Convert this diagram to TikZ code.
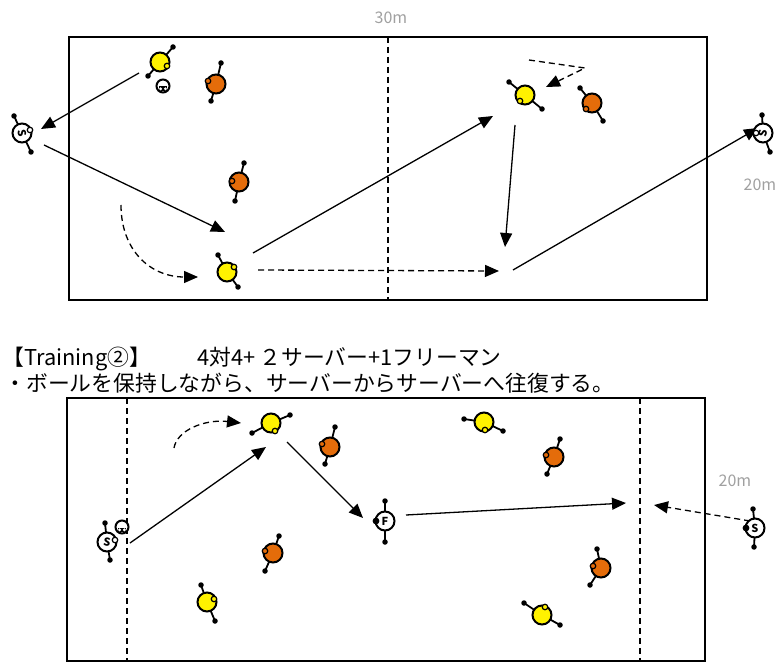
\documentclass[tikz,border=0pt]{standalone}
\usepackage{fontspec}
\setmainfont{Noto Sans CJK JP}
\usetikzlibrary{arrows.meta}
\definecolor{pyellow}{RGB}{255,242,0}
\definecolor{porange}{RGB}{228,108,10}
\definecolor{labelgray}{RGB}{160,160,160}
\tikzset{
  field/.style={draw=black, line width=1.2pt},
  midline/.style={draw=black, line width=1.1pt, dash pattern=on 6pt off 4pt},
  pass/.style={draw=black, line width=1.3pt, -{Triangle[length=14pt,width=12pt]}},
  run/.style={pass, dash pattern=on 6pt off 4pt},
  arm/.style={line width=1.8pt, line cap=round},
  body/.style={circle, draw=black, line width=2pt, minimum size=19pt, inner sep=0pt},
  ear/.style={circle, draw=black, line width=1.2pt, minimum size=5.5pt, inner sep=0pt},
  joint/.style={circle, fill=black, minimum size=5.5pt, inner sep=0pt},
  letter/.style={font=\fontsize{11}{11}\selectfont\bfseries},
  measure/.style={text=labelgray, font=\fontsize{16}{16}\selectfont},
  caption/.style={anchor=base west, font=\fontsize{21.8}{22}\selectfont},
}
% player: name, centre, fill, end 1, end 2, ear
\newcommand\fieldplayer[6]{%
  \begin{scope}[shift={(#2)}]
    \draw[arm] (#4) -- (0,0) -- (#5);
    \node[joint] at (#4) {};
    \node[joint] at (#5) {};
    \node[body, fill=#3] (#1) at (0,0) {};
    \node[ear, fill=#3] at (#6) {};
  \end{scope}}
% server / free player: name, centre, letter, letter angle, end 1, end 2, ear, ear fill
\newcommand\roleplayer[8]{%
  \begin{scope}[shift={(#2)}]
    \draw[arm] (#5) -- (0,0) -- (#6);
    \node[joint] at (#5) {};
    \node[joint] at (#6) {};
    \node[body, fill=white] (#1) at (0,0) {};
    \node[letter, rotate=#4] at (0,0) {#3};
    \node[ear, fill=#8] at (#7) {};
  \end{scope}}
% ball: name, centre
\newcommand\ballicon[2]{%
  \begin{scope}[shift={(#2)}]
    \node[circle, draw=black, fill=white, line width=2pt, minimum size=13pt, inner sep=0pt] (#1) at (0,0) {};
    \fill (-4,0.5) rectangle (4,5);
    \fill[white] (-2.4,2.8) circle (1.6);
    \fill[white] (2.4,2.8) circle (1.6);
  \end{scope}}
\begin{document}
\begin{tikzpicture}[x=1pt, y=-1pt]
\useasboundingbox (0,0) rectangle (779,663);

% ---------- upper pitch ----------
\draw[field] (69,37) rectangle (707,300);
\draw[midline] (388,37) -- (388,300);
\node[measure] (len1) at (391,18) {30m};
\node[measure] (wid1) at (760,185) {20m};

\coordinate (a1s) at (139,73);  \coordinate (a1e) at (41,129);
\coordinate (a2s) at (44,145);  \coordinate (a2e) at (225,232);
\coordinate (a3s) at (121,205); \coordinate (a3e) at (198,277);
\coordinate (a4s) at (253,253); \coordinate (a4e) at (493,116);
\coordinate (a5s) at (258,270); \coordinate (a5e) at (499,271);
\coordinate (a6s) at (515,125); \coordinate (a6e) at (505,247);
\coordinate (a7s) at (513,270); \coordinate (a7e) at (758,128);
\coordinate (a8s) at (529,60);  \coordinate (a8m) at (585,68); \coordinate (a8e) at (546,87);

\draw[pass] (a1s) -- (a1e);
\draw[pass] (a2s) -- (a2e);
\draw[run] (a3s) .. controls (121,250) and (150,277) .. (a3e);
\draw[pass] (a4s) -- (a4e);
\draw[run] (a5s) -- (a5e);
\draw[pass] (a6s) -- (a6e);
\draw[pass] (a7s) -- (a7e);
\draw[run] (a8s) -- (a8m) -- (a8e);

\fieldplayer{y1}{160,62}{pyellow}{13,-15}{-12,14}{7,4}
\ballicon{b1}{163,86}
\fieldplayer{o1}{216,84}{porange}{5,-21}{-5,17}{-8,-3}
\roleplayer{s1}{22,133}{S}{-80}{-8,-17}{9,19}{8,-3}{white}
\fieldplayer{o2}{239,182}{porange}{5,-19}{-4,19}{-7,-1}
\fieldplayer{y2}{227,272}{pyellow}{-9,-17}{11,15}{7,-5}
\fieldplayer{y3}{525,95}{pyellow}{-16,-13}{17,14}{-5,6}
\fieldplayer{o3}{592,103}{porange}{-12,-15}{11,18}{-6,6}
\roleplayer{s2}{763,133}{S}{80}{-1,-18}{7,19}{-7,0}{white}

% ---------- caption ----------
\node[caption] (title) at (-1,365) {【Training②】};
\node[caption] (format) at (194,365) {4対4+\hspace{4pt}２サーバー+1フリーマン};
\node[caption] (task) at (1,391) {・ボールを保持しながら、サーバーからサーバーへ往復する。};

% ---------- lower pitch ----------
\draw[field] (67,398) rectangle (705,661);
\draw[midline] (127,398) -- (127,661);
\draw[midline] (640,398) -- (640,661);
\node[measure] (wid2) at (735,481) {20m};

\coordinate (b1s) at (130,543); \coordinate (b1e) at (266,447);
\coordinate (b2s) at (174,448); \coordinate (b2e) at (241,423);
\coordinate (b3s) at (287,442); \coordinate (b3e) at (363,518);
\coordinate (b4s) at (406,515); \coordinate (b4e) at (626,503);
\coordinate (b5s) at (750,521); \coordinate (b5e) at (654,505);

\draw[pass] (b1s) -- (b1e);
\draw[run] (b2s) .. controls (177,430) and (205,419) .. (b2e);
\draw[pass] (b3s) -- (b3e);
\draw[pass] (b4s) -- (b4e);
\draw[run] (b5s) -- (b5e);

\roleplayer{s3}{107,542}{S}{-10}{-2,-19}{3,18}{8,-2}{white}
\ballicon{b2}{122,527}
\fieldplayer{y4}{271,423}{pyellow}{-19,10}{19,-8}{4,8}
\fieldplayer{o4}{330,447}{porange}{5,-20}{-5,17}{-8,-3}
\fieldplayer{y5}{484,422}{pyellow}{-20,-3}{19,9}{1,8}
\fieldplayer{o5}{554,457}{porange}{6,-18}{-7,17}{-8,-2}
\roleplayer{f1}{385,521}{F}{0}{0,-20}{0,21}{-9,0}{black}
\fieldplayer{o6}{273,553}{porange}{6,-17}{-8,18}{-8,-2}
\fieldplayer{y6}{207,602}{pyellow}{-6,-17}{8,19}{7,-3}
\fieldplayer{o7}{601,568}{porange}{-4,-19}{-11,17}{-8,-2}
\fieldplayer{y7}{542,615}{pyellow}{-18,-12}{18,10}{3,-8}
\roleplayer{s4}{755,528}{S}{0}{-2,-19}{-1,19}{-9,0}{black}
\end{tikzpicture}
\end{document}
